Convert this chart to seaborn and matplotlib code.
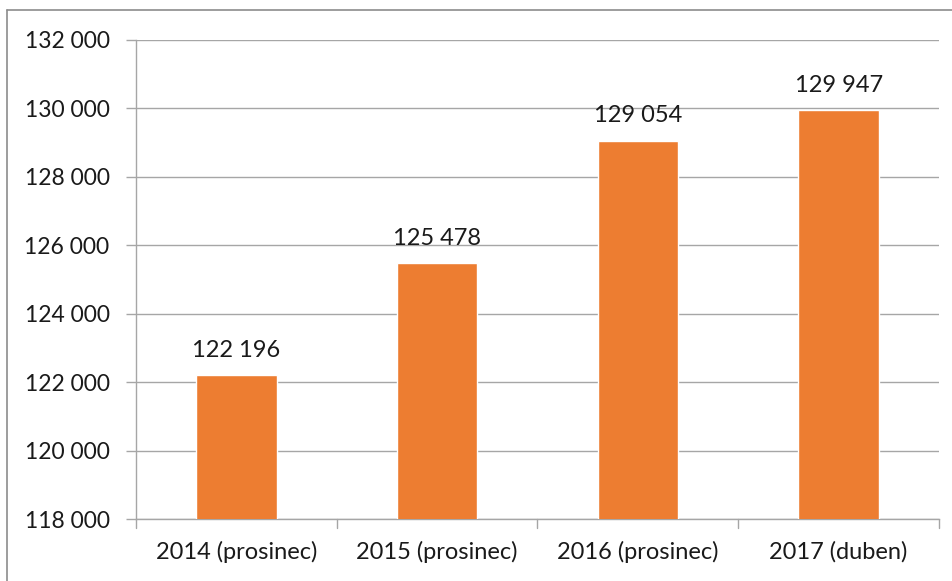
import seaborn as sns
import matplotlib.pyplot as plt
import pandas as pd
from matplotlib.lines import Line2D

# data
categories = ['2014 (prosinec)', '2015 (prosinec)', '2016 (prosinec)', '2017 (duben)']
values = [122196, 125478, 129054, 129947]
yticks = [118000, 120000, 122000, 124000, 126000, 128000, 130000, 132000]

df = pd.DataFrame({'obdobi': categories, 'pocet': values})

sns.set_style('white')
plt.rcParams['font.family'] = ['Lato', 'DejaVu Sans']

def fmt(v):
    return f'{v:,}'.replace(',', ' ')

fig = plt.figure(figsize=(9.53, 5.81), dpi=100)
ax = fig.add_axes([0.1427, 0.1067, 0.8426, 0.8245])

sns.barplot(data=df, x='obdobi', y='pocet', color='#ED7D31', saturation=1,
            width=0.4, ax=ax, zorder=3)

ax.set_ylim(118000, 132000)
ax.set_xlim(-0.5, 3.5)
ax.set_yticks(yticks)
ax.set_yticklabels([fmt(t) for t in yticks])
ax.set_xticks([0, 1, 2, 3])
ax.set_xticklabels(categories)
ax.set_xlabel('')
ax.set_ylabel('')

ax.grid(axis='y', color='#A6A6A6', linewidth=1, zorder=0)
ax.grid(axis='x', visible=False)
for s in ['top', 'right']:
    ax.spines[s].set_visible(False)
ax.spines['left'].set_color('#A6A6A6')
ax.spines['bottom'].set_color('#A6A6A6')
ax.spines['left'].set_linewidth(1)
ax.spines['bottom'].set_linewidth(1)

ax.tick_params(axis='y', length=7, width=1, color='#A6A6A6', labelsize=16.5,
               labelcolor='#1a1a1a', pad=12, left=True)
ax.tick_params(axis='x', length=0, labelsize=17, labelcolor='#1a1a1a', pad=16)

# x ticks at category boundaries
for b in [-0.5, 0.5, 1.5, 2.5, 3.5]:
    ax.plot([b, b], [118000, 117750], color='#A6A6A6', lw=1, clip_on=False, zorder=4)

for i, v in enumerate(values):
    ax.text(i, v + 420, fmt(v), ha='center', va='bottom', fontsize=17, color='#1a1a1a')

# figure border (partially visible)
fig.add_artist(Line2D([0.0073, 0.0073], [0, 0.9828], color='#8C8C8C', lw=1.2,
                      transform=fig.transFigure))
fig.add_artist(Line2D([0.0073, 1], [0.9828, 0.9828], color='#8C8C8C', lw=1.2,
                      transform=fig.transFigure))

fig.savefig('out.png', dpi=100)
